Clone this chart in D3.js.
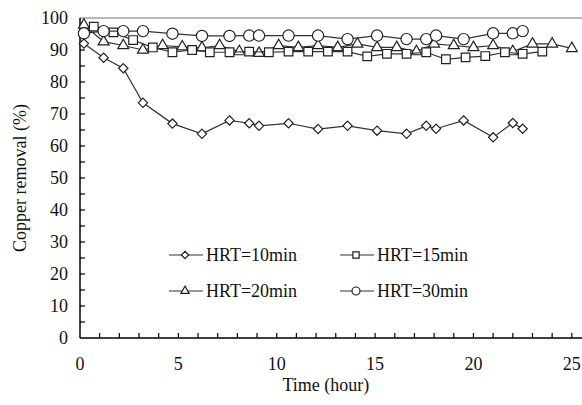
<!DOCTYPE html>
<html><head><meta charset="utf-8">
<script src="https://cdn.jsdelivr.net/npm/d3@7"></script>
<style>body{margin:0;background:#fff}svg{display:block}svg text{font-family:"Times New Roman","Liberation Serif",Tinos,"DejaVu Serif",serif;fill:#111}</style>
</head><body><svg id="c" width="582" height="405"></svg>
<script>
// Data
const timeA = [0.2,1.2,2.2,3.2,4.7,6.2,7.6,8.6,9.1,10.6,12.1,13.6,15.1,16.6,17.6,18.1,19.5,21.0,22.0,22.5];
const hrt10 = [92.0,87.6,84.3,73.5,67.0,63.8,68.0,67.1,66.3,67.1,65.3,66.3,64.8,63.8,66.3,65.4,68.0,62.7,67.2,65.4];
const hrt30 = [95.2,95.9,95.9,95.9,95.1,94.4,94.4,94.5,94.5,94.5,94.5,93.4,94.5,93.4,93.4,94.5,93.4,95.2,95.2,95.9];
const timeB = [0.7,1.7,2.7,3.7,4.7,5.7,6.6,7.6,8.6,9.6,10.6,11.6,12.6,13.6,14.6,15.6,16.6,17.6,18.6,19.6,20.6,21.6,22.5,23.5];
const hrt15 = [97.3,95.5,93.1,90.8,89.3,90.0,89.3,89.3,89.5,89.3,89.5,89.5,89.5,89.5,88.0,88.8,88.8,89.3,87.1,87.7,88.1,89.3,88.8,89.5];
const timeC = [0.2,1.2,2.2,3.2,4.2,5.2,6.2,7.1,8.1,9.1,10.1,11.1,12.1,13.1,14.1,15.1,16.1,17.1,18.0,19.0,20.0,21.0,22.0,23.0,24.0,25.0];
const hrt20 = [97.8,92.6,91.4,90.0,91.4,91.0,90.7,91.4,89.5,89.0,91.4,90.8,91.4,90.8,91.9,90.8,90.8,89.5,91.9,91.4,90.8,91.4,89.5,91.9,91.9,90.5];
const xTicks = [0,5,10,15,20,25];
const yTicks = [0,10,20,30,40,50,60,70,80,90,100];
const legendLabels = ["HRT=10min","HRT=15min","HRT=20min","HRT=30min"];

const svg = d3.select("#c");
const x = d3.scaleLinear().domain([0,26]).range([80,591.5]);
const y = d3.scaleLinear().domain([0,100]).range([338,18]);

// top border
svg.append("line").attr("x1",80).attr("x2",582).attr("y1",18).attr("y2",18)
  .attr("stroke","#a0a0a0").attr("stroke-width",1.5);

// x axis
const gx = svg.append("g").attr("transform","translate(0,338)");
gx.append("line").attr("x1",80).attr("x2",582).attr("stroke","#000").attr("stroke-width",1.5);
gx.selectAll("line.t").data(d3.range(1,26)).join("line").attr("class","t")
  .attr("x1",d=>x(d)).attr("x2",d=>x(d)).attr("y1",0).attr("y2",-5).attr("stroke","#000").attr("stroke-width",1.2);
gx.selectAll("text").data(xTicks).join("text").attr("x",d=>x(d)).attr("y",32)
  .attr("text-anchor","middle").attr("font-size",18).text(d=>d);
svg.append("text").attr("x",x(12.5)).attr("y",391).attr("text-anchor","middle").attr("font-size",18).text("Time (hour)");

// y axis
const gy = svg.append("g");
gy.append("line").attr("x1",80).attr("x2",80).attr("y1",18).attr("y2",338).attr("stroke","#000").attr("stroke-width",1.5);
gy.selectAll("line.t").data(d3.range(5,100,5)).join("line").attr("class","t")
  .attr("x1",80).attr("x2",85).attr("y1",d=>y(d)).attr("y2",d=>y(d)).attr("stroke","#000").attr("stroke-width",1.2);
gy.selectAll("text").data(yTicks).join("text").attr("x",68).attr("y",d=>y(d)+6)
  .attr("text-anchor","end").attr("font-size",18).text(d=>d);
svg.append("text").attr("transform","translate(26,"+y(50)+") rotate(-90)")
  .attr("text-anchor","middle").attr("font-size",18).text("Copper removal (%)");

const line = d3.line().x(d=>x(d[0])).y(d=>y(d[1]));
function drawMarker(g, type, cx, cy, s){
  const sym = {diamond:d3.symbolDiamond2, square:d3.symbolSquare2, triangle:d3.symbolTriangle2, circle:d3.symbolCircle}[type];
  g.append("path").attr("d", d3.symbol().type(sym).size(s)())
   .attr("transform","translate("+cx+","+cy+")")
   .attr("fill","#fff").attr("stroke","#222").attr("stroke-width",1.2);
}
const series = [
  {t:timeC, v:hrt20, m:"triangle", s:85},
  {t:timeB, v:hrt15, m:"square", s:95},
  {t:timeA, v:hrt30, m:"circle", s:100},
  {t:timeA, v:hrt10, m:"diamond", s:55}
];
series.forEach(sr=>{
  const pts = sr.t.map((t,i)=>[t,sr.v[i]]);
  svg.append("path").attr("d",line(pts)).attr("fill","none").attr("stroke","#333").attr("stroke-width",1.2);
  const g = svg.append("g");
  pts.forEach(p=>drawMarker(g, sr.m, x(p[0]), y(p[1]), sr.s));
});

// legend
const legend = [
  {lab:legendLabels[0], m:"diamond", lx:169, ly:255},
  {lab:legendLabels[1], m:"square", lx:340, ly:255},
  {lab:legendLabels[2], m:"triangle", lx:169, ly:291},
  {lab:legendLabels[3], m:"circle", lx:340, ly:291}
];
legend.forEach(l=>{
  svg.append("line").attr("x1",l.lx).attr("x2",l.lx+34).attr("y1",l.ly).attr("y2",l.ly).attr("stroke","#333").attr("stroke-width",1.2);
  const g = svg.append("g");
  drawMarker(g, l.m, l.lx+16, l.ly, l.m==="diamond"?35:50);
  svg.append("text").attr("x",l.lx+37).attr("y",l.ly+6).attr("font-size",18).text(l.lab);
});
</script></body></html>
